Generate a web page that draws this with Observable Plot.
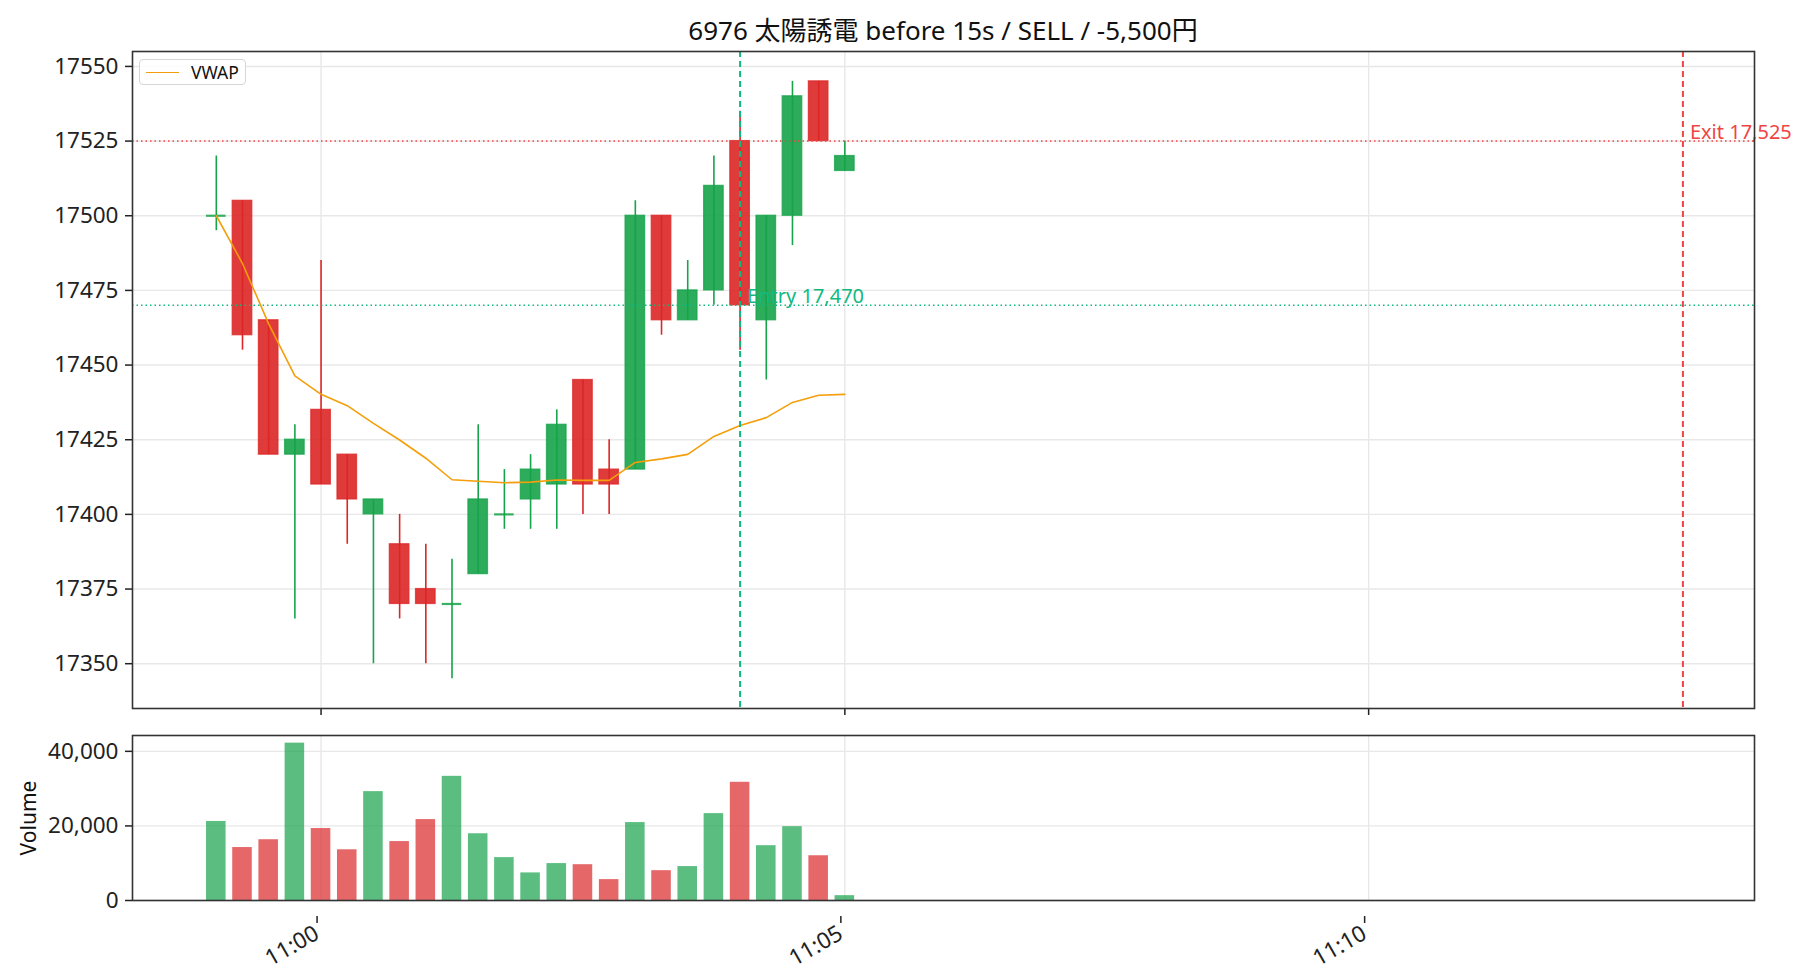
<!DOCTYPE html>
<html><head><meta charset="utf-8">
<script src="https://cdn.jsdelivr.net/npm/d3@7"></script>
<script src="https://cdn.jsdelivr.net/npm/@observablehq/plot@0.6"></script>
<style>
body{margin:0;background:#fff;}
#wrap{position:relative;width:1820px;height:980px;font-family:"Noto Sans","Noto Sans CJK JP",sans-serif;color:#111;overflow:hidden;}
#title{position:absolute;left:132px;width:1622px;top:11px;text-align:center;font-size:26px;line-height:38px;white-space:nowrap;}
#price{position:absolute;left:0;top:0;}
#vol{position:absolute;left:0;top:720px;}
#legend{position:absolute;left:139px;top:59px;width:105px;height:24px;border:1.5px solid #d6d6d6;border-radius:4px;background:rgba(255,255,255,0.85);}
#legend .sw{position:absolute;left:6px;top:12px;width:33px;height:0;border-top:1.6px solid #f59e0b;}
#legend .lb{position:absolute;left:51px;top:0;line-height:24px;font-size:17.5px;color:#111;}
#vlabel{position:absolute;left:28px;top:818px;transform:translate(-50%,-50%) rotate(-90deg);font-size:21px;white-space:nowrap;}
</style></head>
<body><div id="wrap">
<div id="price"></div><div id="vol"></div>
<div id="title"></div>
<div id="legend"><div class="sw"></div><div class="lb">VWAP</div></div>
<div id="vlabel">Volume</div>
</div>
<script>
const titleText = "6976 太陽誘電 before 15s / SELL / -5,500円";
const times  = ["10:59:00","10:59:15","10:59:30","10:59:45","11:00:00","11:00:15","11:00:30","11:00:45","11:01:00","11:01:15","11:01:30","11:01:45","11:02:00","11:02:15","11:02:30","11:02:45","11:03:00","11:03:15","11:03:30","11:03:45","11:04:00","11:04:15","11:04:30","11:04:45","11:05:00"];
const open   = [17500,17505,17465,17420,17435,17420,17400,17390,17375,17370,17380,17400,17405,17410,17445,17415,17415,17500,17465,17475,17525,17465,17500,17545,17515];
const high   = [17520,17505,17465,17430,17485,17420,17405,17400,17390,17385,17430,17415,17420,17435,17445,17425,17505,17500,17485,17520,17535,17500,17545,17545,17525];
const low    = [17495,17455,17420,17365,17410,17390,17350,17365,17350,17345,17380,17395,17395,17395,17400,17400,17415,17460,17465,17470,17455,17445,17490,17525,17515];
const close  = [17500,17460,17420,17425,17410,17405,17405,17370,17370,17370,17405,17400,17415,17430,17410,17410,17500,17465,17475,17510,17470,17500,17540,17525,17520];
const volume = [21200,14200,16300,42200,19300,13600,29200,15800,21700,33300,17900,11500,7400,9900,9600,5600,20900,8000,9100,23300,31700,14700,19800,12000,1300];
const vwap   = [17500,17484.0,17463.8,17446.4,17440.2,17436.4,17430.5,17424.9,17418.8,17411.6,17411.1,17410.6,17410.8,17411.5,17411.4,17411.4,17417.4,17418.6,17420.1,17426.1,17429.8,17432.4,17437.5,17439.9,17440.2];
const entryTime = "11:04:00", entryPrice = 17470;
const exitTime  = "11:13:00", exitPrice  = 17525;
const priceTicks = [17350,17375,17400,17425,17450,17475,17500,17525,17550];
const volTicks = [0,20000,40000];
const timeTicks = ["11:00:00","11:05:00","11:10:00"];
const xDomain = ["10:58:12","11:13:41"];

const UP = "#16a34a", DOWN = "#dc2626", ENTRY = "#10b981", EXIT = "#ef4444", VW = "#f59e0b";
const T = s => new Date(`2024-01-01T${s}Z`);
const rows = times.map((t,i)=>({t:T(t), o:open[i], h:high[i], l:low[i], c:close[i], v:volume[i], w:vwap[i], up: close[i]>=open[i]}));
const half = 5600;
const X1 = d => new Date(+d.t - half), X2 = d => new Date(+d.t + half);
const col = d => d.up ? UP : DOWN;
const fmtTime = d3.utcFormat("%H:%M");
const gridStyle = {stroke:"#e8e8e8", strokeOpacity:1, strokeWidth:1.4};
const xScale = {type:"utc", domain: xDomain.map(T)};
const FONT = '"Noto Sans","Noto Sans CJK JP",sans-serif';
const style = {fontFamily:FONT, fontSize:"22.5px", color:"#222", background:"transparent", overflow:"visible"};

document.getElementById("title").textContent = titleText;

const price = Plot.plot({
  width:1820, height:760, marginLeft:132, marginRight:66, marginTop:51, marginBottom:52,
  style,
  x: xScale,
  y: {domain:[17335,17555]},
  marks: [
    Plot.gridY(priceTicks, gridStyle),
    Plot.gridX(timeTicks.map(T), gridStyle),
    Plot.rect(rows.filter(d=>d.o!==d.c), {x1:X1, x2:X2, y1:"o", y2:"c", fill:col, fillOpacity:0.9, stroke:col, strokeOpacity:0.75, strokeWidth:1.3}),
    Plot.ruleY(rows.filter(d=>d.o===d.c), {y:"o", x1:X1, x2:X2, stroke:col, strokeOpacity:0.85, strokeWidth:2.2}),
    Plot.ruleX(rows, {x:"t", y1:"l", y2:"h", stroke:col, strokeWidth:1.6}),
    Plot.line(rows, {x:"t", y:"w", stroke:VW, strokeWidth:1.6}),
    Plot.ruleY([entryPrice], {stroke:ENTRY, strokeWidth:1.5, strokeDasharray:"1.5,3"}),
    Plot.ruleY([exitPrice], {stroke:EXIT, strokeWidth:1.5, strokeDasharray:"1.5,3"}),
    Plot.ruleX([T(entryTime)], {stroke:ENTRY, strokeWidth:2, strokeDasharray:"6,4"}),
    Plot.ruleX([T(exitTime)], {stroke:EXIT, strokeWidth:2, strokeDasharray:"6,4"}),
    Plot.text([{t:T(entryTime), p:entryPrice}], {x:"t", y:"p", text:d=>`Entry ${d3.format(",")(d.p)}`, fill:ENTRY, fontSize:20, textAnchor:"start", lineAnchor:"bottom", dx:7, dy:-2}),
    Plot.text([{t:T(exitTime), p:exitPrice}], {x:"t", y:"p", text:d=>`Exit ${d3.format(",")(d.p)}`, fill:EXIT, fontSize:20, textAnchor:"start", lineAnchor:"bottom", dx:7, dy:-2}),
    Plot.axisY(priceTicks, {tickSize:7, tickPadding:7, tickFormat:d=>String(d), strokeWidth:1.5, label:null}),
    Plot.axisX(timeTicks.map(T), {tickSize:7, tickFormat:()=>"", strokeWidth:1.5, label:null}),
    Plot.frame({stroke:"#333", strokeWidth:1.6})
  ]
});
document.getElementById("price").appendChild(price);

const vol = Plot.plot({
  width:1820, height:260, marginLeft:132, marginRight:66, marginTop:15, marginBottom:80,
  style,
  x: xScale,
  y: {domain:[0,44250]},
  marks: [
    Plot.gridY(volTicks, gridStyle),
    Plot.gridX(timeTicks.map(T), gridStyle),
    Plot.rect(rows, {x1:X1, x2:X2, y1:0, y2:"v", fill:col, fillOpacity:0.7}),
    Plot.axisY(volTicks, {tickSize:7, tickPadding:7, tickFormat:d3.format(","), strokeWidth:1.5, label:null}),
    Plot.axisX(timeTicks.map(T), {tickSize:7, tickPadding:8, tickRotate:-30, tickFormat:fmtTime, strokeWidth:1.5, label:null, dy:16, dx:-4}),
    Plot.frame({stroke:"#333", strokeWidth:1.6})
  ]
});
document.getElementById("vol").appendChild(vol);
</script>
</body></html>
